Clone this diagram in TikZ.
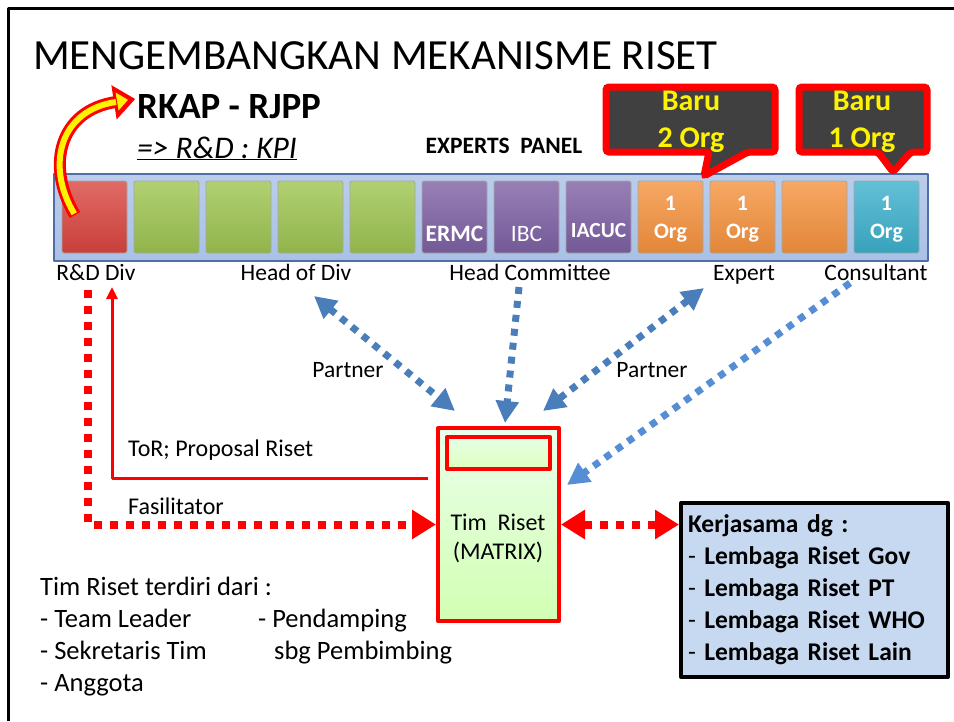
\documentclass[tikz,border=0pt]{standalone}
\usepackage{fontspec}
\setmainfont{Carlito}
\usetikzlibrary{arrows.meta,positioning}
\newcommand{\fs}[2]{\fontsize{#1}{#2}\selectfont}
\definecolor{rdbox}{HTML}{D9453F}
\definecolor{grn}{HTML}{9DC450}
\definecolor{purp}{HTML}{7E60A4}
\definecolor{orng}{HTML}{F5923E}
\definecolor{teal}{HTML}{3CB0CC}
\definecolor{panelblue}{HTML}{A9C1E6}
\definecolor{paneledge}{HTML}{4E6EA6}
\definecolor{arrblue}{HTML}{4A7EBB}
\definecolor{arrlight}{HTML}{558ED5}
\definecolor{kblue}{HTML}{C6D9F1}
\definecolor{callgray}{HTML}{404040}
\tikzset{
  every picture/.style={line join=round, >=Stealth},
  every node/.style={inner sep=0pt},
  sq/.style={draw=black!35, line width=0.8, rounded corners=2, minimum width=65, minimum height=72},
  sqtxt/.style={text=white, align=center, font=\bfseries\fs{22}{28}},
  lbl/.style={font=\fs{23.5}{28}},
  panel/.style={draw=paneledge, line width=2.5, top color=panelblue!80!white, bottom color=panelblue},
  callout/.style={draw=red, line width=7, fill=callgray, rounded corners=3, line join=miter},
  barutxt/.style={text=yellow, align=center, font=\bfseries\fs{30}{37}},
  timbox/.style={draw=red, line width=4, top color=green!8!white, bottom color=green!60!yellow!30!white},
  reddot/.style={red, line width=8, dash pattern=on 8pt off 8pt},
  bluedot/.style={arrblue, line width=7, dash pattern=on 7pt off 7pt},
  redtip/.tip={Triangle[length=24pt,width=28pt]},
  bluetip/.tip={Triangle[length=22pt,width=22pt]},
}

\begin{document}
\begin{tikzpicture}[x=1pt,y=-1pt]
\useasboundingbox (0,0) rectangle (954,721);
\draw[line width=3] (8,721) -- (8,8) -- (954,8);

% headings
\node[anchor=base west, font=\fs{43}{50}] (title) at (33,69) {MENGEMBANGKAN MEKANISME RISET};
\node[anchor=base west, font=\bfseries\fs{37}{42}] (rkap) at (137,118) {RKAP - RJPP};
\node[anchor=base west, font=\itshape\fs{31.5}{36}] (kpi) at (137,158) {\underline{=> R\&D : KPI}};
\node[anchor=base, font=\bfseries\fs{23.5}{26}] (experts) at (504,153) {EXPERTS~~PANEL};

% experts panel
\node[panel, minimum width=874, minimum height=87] (panel) at (491,217.5) {};
\foreach \i/\c in {1/rdbox,2/grn,3/grn,4/grn,5/grn,6/purp,7/purp,8/purp,9/orng,10/orng,11/orng,12/teal}
  \node[sq, top color=\c!80!white, bottom color=\c!92!black] (b\i) at ({94.5+72*(\i-1)},217) {};
\node[sqtxt, anchor=base, font=\bfseries\fs{23.5}{28}] (t6) at ([shift={(0,24)}]b6.center) {ERMC};
\node[sqtxt, anchor=base, font=\fs{23.5}{28}] (t7) at ([shift={(0,24)}]b7.center) {IBC};
\node[sqtxt, anchor=base, font=\bfseries\fs{21.5}{28}] (t8) at ([shift={(0,20)}]b8.center) {IACUC};
\foreach \i in {9,10,12}
  \node[sqtxt] (t\i) at ([shift={(0,2)}]b\i.center) {1\\Org};

\node[lbl, anchor=base] (lrd) at (96,280) {R\&D Div};
\node[lbl, anchor=base] (lhead) at (296,280) {Head of Div};
\node[lbl, anchor=base] (lcom) at (530,280) {Head Committee};
\node[lbl, anchor=base] (lexp) at (744,280) {Expert};
\node[lbl, anchor=base] (lcons) at (876,280) {Consultant};

% callouts
\draw[callout] (606,87) -- (775,87) -- (775,152) -- (748,152) -- (704,176) -- (709,152) -- (606,152) -- cycle;
\node[barutxt] (baru2) at (691,122) {Baru\\2 Org};
\draw[callout] (799,87) -- (927,87) -- (927,152) -- (911,152) -- (893,172) -- (878,152) -- (799,152) -- cycle;
\node[barutxt] (baru1) at (862,122) {Baru\\1 Org};

% curved arrow
\draw[red, line width=12] (75,215) .. controls (45,165) and (60,110) .. (116,102);
\filldraw[red, line width=4, line join=miter] (132,99.5) -- (118,115) -- (114,89) -- cycle;
\draw[yellow, line width=6, shorten <=1.5pt] (75,215) .. controls (45,165) and (60,110) .. (116,102);
\fill[yellow] (128,99.8) -- (118.6,110.5) -- (115.6,92.5) -- cycle;

% tim riset
\node[timbox, minimum width=121, minimum height=193] (tim) at (498.5,524.5) {};
\node[draw=red, line width=4, top color=green!10!white, bottom color=green!50!yellow!25!white,
  minimum width=103, minimum height=32] (timtop) at (498.5,453) {};
\node[lbl, align=center, font=\fs{24}{29}] (timlbl) at (498,538) {Tim~~Riset\\(MATRIX)};

% kerjasama
\node[draw=black, line width=4, fill=kblue, anchor=north west, minimum width=267, minimum height=174,
  text width=253, inner xsep=7pt, align=left, font=\fs{25.5}{32}] (kerja) at (679,501)
  {\textbf{Kerjasama dg :}\\- \textbf{Lembaga Riset Gov}\\- \textbf{Lembaga Riset PT}\\- \textbf{Lembaga Riset WHO}\\- \textbf{Lembaga Riset Lain}};

% red links
\draw[reddot, -{redtip}] ([shift={(-8,10)}]lrd.base) |- (tim.west);
\draw[reddot, {redtip}-{redtip}] (tim.east) -- (tim.east -| kerja.west);
\draw[red, line width=3, -{Triangle[length=12pt,width=11pt]}] ([shift={(-8,-46)}]tim.west) -| ([shift={(16,7)}]lrd.base);
\node[lbl, anchor=west, font=\fs{24}{28}] (tor) at (128,450) {ToR; Proposal Riset};
\node[lbl, anchor=west, font=\fs{24}{28}] (fasil) at (128,506) {Fasilitator};

% blue links
\draw[bluedot, {bluetip}-{bluetip}] ([shift={(18,16)}]lhead.base) -- ([shift={(19,-15)}]tim.north west);
\draw[bluedot, -{bluetip}] ([shift={(-11,7)}]lcom.base) -- ([shift={(6.5,-3)}]tim.north);
\draw[bluedot, {bluetip}-{bluetip}] ([shift={(-40,8)}]lexp.base) -- ([shift={(-18,-15)}]tim.north east);
\draw[bluedot, arrlight, -{bluetip}] ([shift={(-26,3)}]lcons.base) -- ([shift={(6,59)}]tim.north east);
\node[lbl] (partner1) at (348,370) {Partner};
\node[lbl] (partner2) at (652,370) {Partner};

% team list
\foreach \t [count=\k] in {Tim Riset terdiri dari :,- Team Leader,- Sekretaris Tim,- Anggota}
  \node[anchor=base west, font=\fs{26.5}{32}] (ls\k) at (40,{595+32*(\k-1)}) {\t};
\node[anchor=base west, font=\fs{26.5}{32}] (lp1) at (258,627) {- Pendamping};
\node[anchor=base west, font=\fs{26.5}{32}] (lp2) at (274,659) {sbg Pembimbing};
\end{tikzpicture}
\end{document}
